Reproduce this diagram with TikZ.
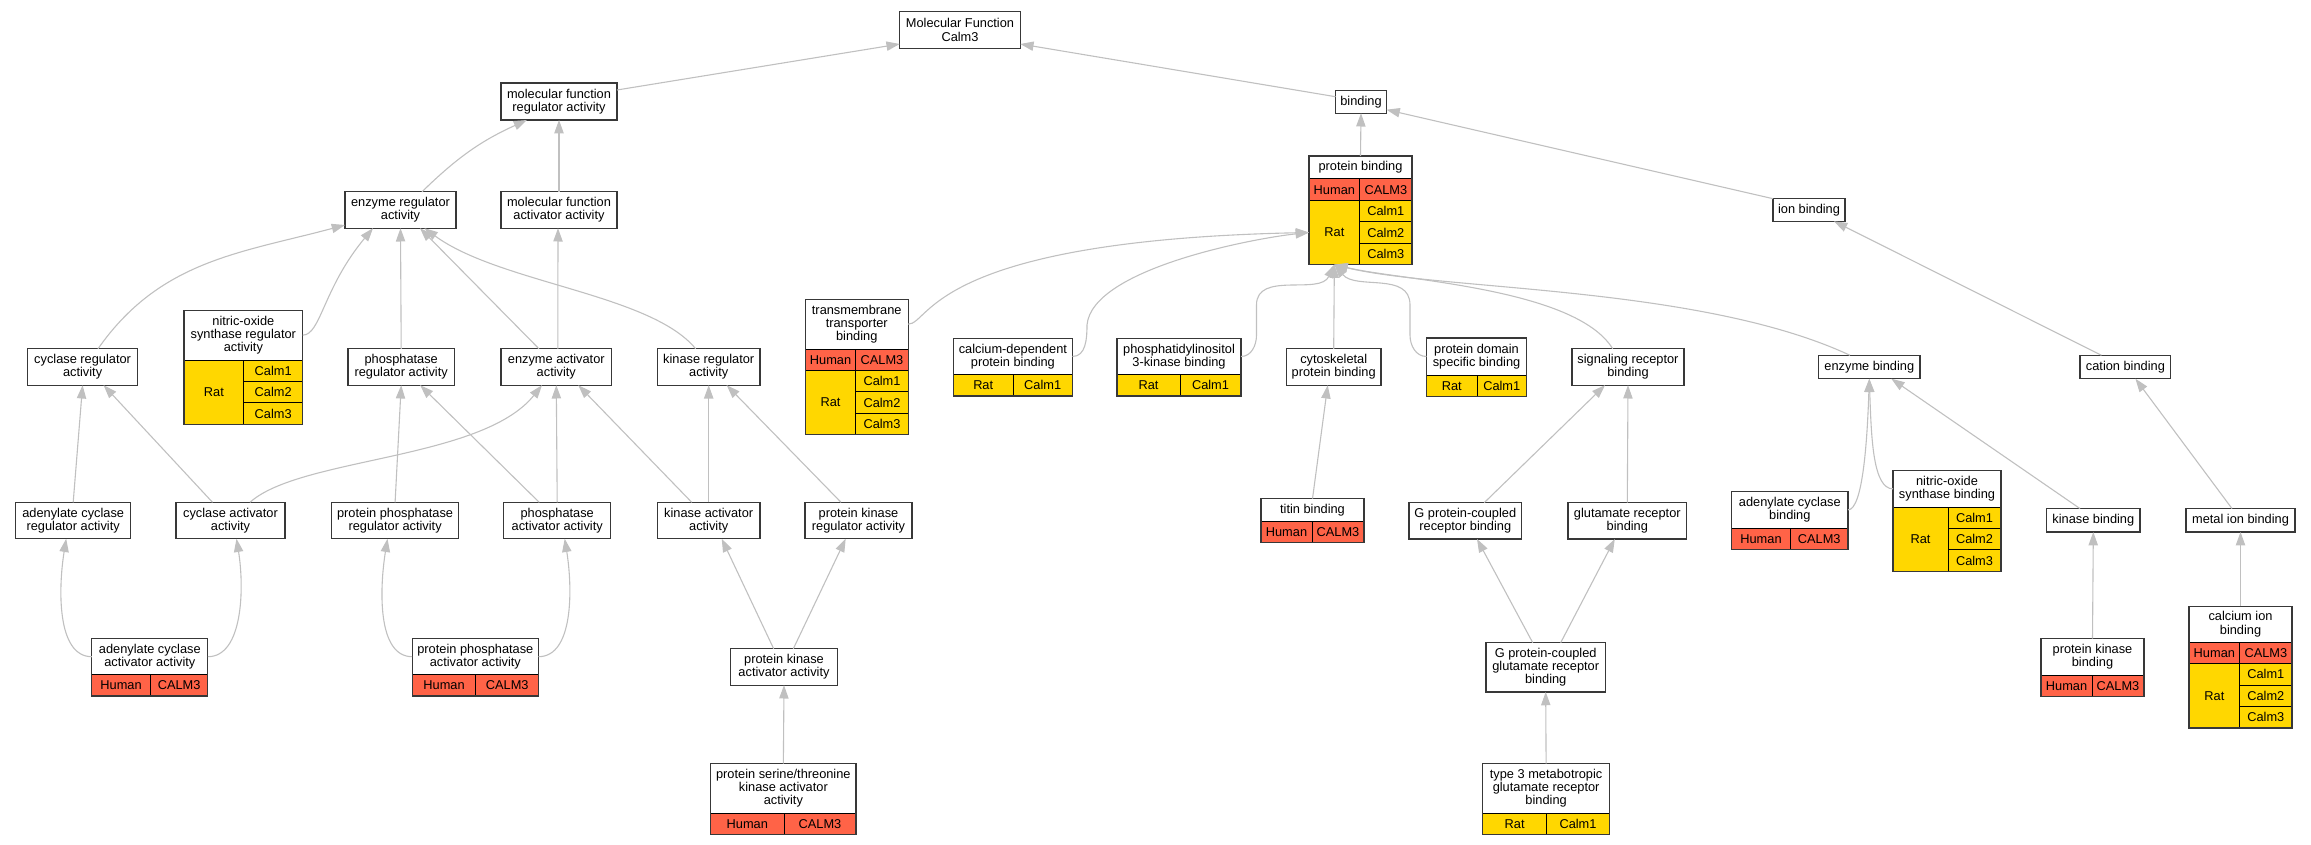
\documentclass[tikz,border=0pt]{standalone}
\usepackage{fontspec}
\setmainfont{Liberation Sans}
\usetikzlibrary{arrows.meta,positioning}

\definecolor{tomato}{HTML}{FF6347}
\definecolor{gold}{HTML}{FFD700}
\definecolor{linegray}{HTML}{C0C0C0}
\definecolor{boxgray}{HTML}{383838}

\tikzset{
  term/.style={draw=boxgray, line width=1.3pt, fill=white, align=center, inner sep=0pt, outer sep=0pt},
  ttl/.style={fill=white, align=center, inner sep=0pt, outer sep=0pt},
  cell/.style={draw=black, line width=1pt, inner sep=0pt, outer sep=0pt, minimum height=21.4pt},
  hum/.style={cell, fill=tomato},
  rat/.style={cell, fill=gold},
  tframe/.style={draw=boxgray, line width=1.3pt},
  isa/.style={draw=linegray, line width=1.1pt, -{Triangle[length=13.3pt,width=9.3pt]}}
}

\begin{document}
\begin{tikzpicture}[x=1pt, y=-1pt, every node/.style={font=\fontsize{12.8}{13.3}\selectfont}]

  % Fix the page to the size of the picture
  \useasboundingbox (0,0) rectangle (2311,845);

  % Root and first level
  \node[term, minimum width=120.5, minimum height=36.6] (mf) at (960,30) {Molecular Function\\Calm3};
  \node[term, minimum width=116, minimum height=37] (mfreg) at (559,101.5) {molecular function\\regulator activity};
  \node[term, minimum width=51, minimum height=23] (bind) at (1361,101.7) {binding};

  % Second level
  \node[term, minimum width=111, minimum height=36.4] (enzreg) at (400.5,210) {enzyme regulator\\activity};
  \node[term, minimum width=116, minimum height=36.4] (mfact) at (559,210) {molecular function\\activator activity};
  \node[term, minimum width=72, minimum height=22.6] (ionb) at (1809,210) {ion binding};

  % protein binding with its table
  \node[ttl, minimum width=103, minimum height=23] (pb) at (1360.5,167.5) {protein binding};
  \node[hum, minimum width=50.7, anchor=north west] (pb-hu) at (pb.south west) {Human};
  \node[hum, minimum width=52.3, right=0pt of pb-hu] (pb-hc) {CALM3};
  \node[rat, minimum width=50.7, minimum height=64.2, below=0pt of pb-hu] (pb-rat) {Rat};
  \node[rat, minimum width=52.3, below=0pt of pb-hc] (pb-c1) {Calm1};
  \node[rat, minimum width=52.3, below=0pt of pb-c1] (pb-c2) {Calm2};
  \node[rat, minimum width=52.3, below=0pt of pb-c2] (pb-c3) {Calm3};
  \draw[tframe] (pb.north west) rectangle (pb-c3.south east);

  % Third level, regulator side
  \node[term, minimum width=110, minimum height=36.4] (cycreg) at (82.6,367) {cyclase regulator\\activity};
  \node[term, minimum width=106.7, minimum height=36.4] (phosreg) at (401.2,367) {phosphatase\\regulator activity};
  \node[term, minimum width=110.6, minimum height=36.4] (enzact) at (556.3,367) {enzyme activator\\activity};
  \node[term, minimum width=102.7, minimum height=36.4] (kinreg) at (708.7,367) {kinase regulator\\activity};

  % nitric-oxide synthase regulator activity
  \node[ttl, minimum width=118.7, minimum height=49.7] (nosreg) at (243.35,335.15) {nitric-oxide\\synthase regulator\\activity};
  \node[rat, minimum width=59.75, minimum height=64.2, anchor=north west] (nosreg-rat) at (nosreg.south west) {Rat};
  \node[rat, minimum width=58.95, anchor=north east] (nosreg-c1) at (nosreg.south east) {Calm1};
  \node[rat, minimum width=58.95, below=0pt of nosreg-c1] (nosreg-c2) {Calm2};
  \node[rat, minimum width=58.95, below=0pt of nosreg-c2] (nosreg-c3) {Calm3};
  \draw[tframe] (nosreg.north west) rectangle (nosreg-c3.south east);

  % transmembrane transporter binding
  \node[ttl, minimum width=102.9, minimum height=49.7] (ttb) at (856.75,324.15) {transmembrane\\transporter\\binding};
  \node[hum, minimum width=50.5, anchor=north west] (ttb-hu) at (ttb.south west) {Human};
  \node[hum, minimum width=52.4, right=0pt of ttb-hu] (ttb-hc) {CALM3};
  \node[rat, minimum width=50.5, minimum height=64.2, below=0pt of ttb-hu] (ttb-rat) {Rat};
  \node[rat, minimum width=52.4, below=0pt of ttb-hc] (ttb-c1) {Calm1};
  \node[rat, minimum width=52.4, below=0pt of ttb-c1] (ttb-c2) {Calm2};
  \node[rat, minimum width=52.4, below=0pt of ttb-c2] (ttb-c3) {Calm3};
  \draw[tframe] (ttb.north west) rectangle (ttb-c3.south east);

  % calcium-dependent protein binding
  \node[ttl, minimum width=119, minimum height=36.4] (cdpb) at (1012.9,356.5) {calcium-dependent\\protein binding};
  \node[rat, minimum width=59.6, anchor=north west] (cdpb-rat) at (cdpb.south west) {Rat};
  \node[rat, minimum width=59.4, right=0pt of cdpb-rat] (cdpb-c1) {Calm1};
  \draw[tframe] (cdpb.north west) rectangle (cdpb-c1.south east);

  % phosphatidylinositol 3-kinase binding
  \node[ttl, minimum width=124, minimum height=36.4] (pi3kb) at (1179,356.5) {phosphatidylinositol\\3-kinase binding};
  \node[rat, minimum width=63, anchor=north west] (pi3kb-rat) at (pi3kb.south west) {Rat};
  \node[rat, minimum width=61, right=0pt of pi3kb-rat] (pi3kb-c1) {Calm1};
  \draw[tframe] (pi3kb.north west) rectangle (pi3kb-c1.south east);

  % Third level, binding side
  \node[term, minimum width=94.7, minimum height=36.4] (cytob) at (1333.7,367) {cytoskeletal\\protein binding};
  \node[ttl, minimum width=100, minimum height=37] (pdsb) at (1476.5,356.5) {protein domain\\specific binding};
  \node[rat, minimum width=50.5, anchor=north west] (pdsb-rat) at (pdsb.south west) {Rat};
  \node[rat, minimum width=49.5, right=0pt of pdsb-rat] (pdsb-c1) {Calm1};
  \draw[tframe] (pdsb.north west) rectangle (pdsb-c1.south east);
  \node[term, minimum width=112, minimum height=36.4] (sigrb) at (1628,367) {signaling receptor\\binding};
  \node[term, minimum width=101.5, minimum height=23.4] (enzb) at (1869.3,367) {enzyme binding};
  \node[term, minimum width=90.8, minimum height=23.4] (catb) at (2125.4,367) {cation binding};

  % Fourth level
  \node[term, minimum width=115.2, minimum height=36.4] (acreg) at (73.2,520.5) {adenylate cyclase\\regulator activity};
  \node[term, minimum width=109, minimum height=36.4] (cycact) at (230.5,520.5) {cyclase activator\\activity};
  \node[term, minimum width=126.8, minimum height=36.4] (ppreg) at (395.1,520.5) {protein phosphatase\\regulator activity};
  \node[term, minimum width=107.1, minimum height=36.4] (phosact) at (557.2,520.5) {phosphatase\\activator activity};
  \node[term, minimum width=102.7, minimum height=36.4] (kinact) at (708.7,520.5) {kinase activator\\activity};
  \node[term, minimum width=107, minimum height=36.4] (pkreg) at (858.5,520.5) {protein kinase\\regulator activity};
  \node[term, minimum width=112.5, minimum height=36.4] (gpcrb) at (1465.3,520.8) {G protein-coupled\\receptor binding};
  \node[term, minimum width=118.7, minimum height=36.4] (glurb) at (1627.3,520.8) {glutamate receptor\\binding};
  \node[term, minimum width=93.5, minimum height=23.4] (kinb) at (2093.3,520.3) {kinase binding};
  \node[term, minimum width=109, minimum height=23.4] (metb) at (2240.5,520.3) {metal ion binding};

  % titin binding
  \node[ttl, minimum width=103, minimum height=22.3] (titinb) at (1312.5,509.85) {titin binding};
  \node[hum, minimum width=51, anchor=north west] (titinb-hu) at (titinb.south west) {Human};
  \node[hum, minimum width=52, right=0pt of titinb-hu] (titinb-hc) {CALM3};
  \draw[tframe] (titinb.north west) rectangle (titinb-hc.south east);

  % adenylate cyclase binding
  \node[ttl, minimum width=116.4, minimum height=36.3] (acb) at (1789.8,509.85) {adenylate cyclase\\binding};
  \node[hum, minimum width=58.8, anchor=north west] (acb-hu) at (acb.south west) {Human};
  \node[hum, minimum width=57.6, right=0pt of acb-hu] (acb-hc) {CALM3};
  \draw[tframe] (acb.north west) rectangle (acb-hc.south east);

  % nitric-oxide synthase binding
  \node[ttl, minimum width=108, minimum height=36.3] (nosb) at (1947,488.85) {nitric-oxide\\synthase binding};
  \node[rat, minimum width=55, minimum height=64.2, anchor=north west] (nosb-rat) at (nosb.south west) {Rat};
  \node[rat, minimum width=53, anchor=north east] (nosb-c1) at (nosb.south east) {Calm1};
  \node[rat, minimum width=53, below=0pt of nosb-c1] (nosb-c2) {Calm2};
  \node[rat, minimum width=53, below=0pt of nosb-c2] (nosb-c3) {Calm3};
  \draw[tframe] (nosb.north west) rectangle (nosb-c3.south east);

  % Fifth level
  \node[term, minimum width=107, minimum height=36.4] (pkact) at (784,667) {protein kinase\\activator activity};
  \node[term, minimum width=119.4, minimum height=49.3] (gpcgrb) at (1545.7,667.3) {G protein-coupled\\glutamate receptor\\binding};

  % adenylate cyclase activator activity
  \node[ttl, minimum width=116, minimum height=36] (acaa) at (149.8,656.7) {adenylate cyclase\\activator activity};
  \node[hum, minimum width=58.6, anchor=north west] (acaa-hu) at (acaa.south west) {Human};
  \node[hum, minimum width=57.4, right=0pt of acaa-hu] (acaa-hc) {CALM3};
  \draw[tframe] (acaa.north west) rectangle (acaa-hc.south east);

  % protein phosphatase activator activity
  \node[ttl, minimum width=126.3, minimum height=36] (ppaa) at (475.35,656.7) {protein phosphatase\\activator activity};
  \node[hum, minimum width=63.7, anchor=north west] (ppaa-hu) at (ppaa.south west) {Human};
  \node[hum, minimum width=62.6, right=0pt of ppaa-hu] (ppaa-hc) {CALM3};
  \draw[tframe] (ppaa.north west) rectangle (ppaa-hc.south east);

  % protein kinase binding
  \node[ttl, minimum width=103, minimum height=36.3] (pkb) at (2092.5,656.85) {protein kinase\\binding};
  \node[hum, minimum width=51, anchor=north west] (pkb-hu) at (pkb.south west) {Human};
  \node[hum, minimum width=52, right=0pt of pkb-hu] (pkb-hc) {CALM3};
  \draw[tframe] (pkb.north west) rectangle (pkb-hc.south east);

  % calcium ion binding
  \node[ttl, minimum width=103, minimum height=36] (cib) at (2240.5,624.3) {calcium ion\\binding};
  \node[hum, minimum width=50.7, anchor=north west] (cib-hu) at (cib.south west) {Human};
  \node[hum, minimum width=52.3, right=0pt of cib-hu] (cib-hc) {CALM3};
  \node[rat, minimum width=50.7, minimum height=64.2, below=0pt of cib-hu] (cib-rat) {Rat};
  \node[rat, minimum width=52.3, below=0pt of cib-hc] (cib-c1) {Calm1};
  \node[rat, minimum width=52.3, below=0pt of cib-c1] (cib-c2) {Calm2};
  \node[rat, minimum width=52.3, below=0pt of cib-c2] (cib-c3) {Calm3};
  \draw[tframe] (cib.north west) rectangle (cib-c3.south east);

  % Bottom level
  \node[ttl, minimum width=145.3, minimum height=49.3] (pstkaa) at (783.35,788.35) {protein serine/threonine\\kinase activator\\activity};
  \node[hum, minimum width=73.3, anchor=north west] (pstkaa-hu) at (pstkaa.south west) {Human};
  \node[hum, minimum width=72, right=0pt of pstkaa-hu] (pstkaa-hc) {CALM3};
  \draw[tframe] (pstkaa.north west) rectangle (pstkaa-hc.south east);

  \node[ttl, minimum width=126.8, minimum height=49.3] (t3b) at (1546.1,788.35) {type 3 metabotropic\\glutamate receptor\\binding};
  \node[rat, minimum width=63.8, anchor=north west] (t3b-rat) at (t3b.south west) {Rat};
  \node[rat, minimum width=63, right=0pt of t3b-rat] (t3b-c1) {Calm1};
  \draw[tframe] (t3b.north west) rectangle (t3b-c1.south east);

  % Edges to the root
  \draw[isa] ([yshift=11.5pt]mfreg.east) -- ([yshift=-14pt]mf.west);
  \draw[isa] ([yshift=5pt]bind.west) -- ([yshift=-14pt]mf.east);
  \draw[isa] ([xshift=21.5pt]enzreg.north) to[bend left=10] ([xshift=-32pt]mfreg.south);
  \draw[isa] (mfact.north) -- (mfreg.south);
  \draw[isa] (pb.north) -- (bind.south);
  \draw[isa] (ionb.north west) -- ([yshift=-8pt]bind.east);

  % Edges to enzyme regulator activity
  \draw[isa] ([xshift=15.4pt]cycreg.north) to[out=55,in=195] ([yshift=-15pt]enzreg.west);
  \draw[isa] (nosreg.east) .. controls +(18,0) and +(-50,60) .. ([xshift=-27.5pt]enzreg.south);
  \draw[isa] (phosreg.north) -- (enzreg.south);
  \draw[isa] ([xshift=-17.3pt]enzact.north) -- ([xshift=19.5pt]enzreg.south);
  \draw[isa] ([xshift=-13pt]kinreg.north) .. controls +(-45,-55) and +(75,55) .. ([xshift=24pt]enzreg.south);
  \draw[isa] ([xshift=1.5pt]enzact.north) -- ([xshift=-1pt]mfact.south);

  % Edges among the activators and regulators
  \draw[isa] (acreg.north) -- (cycreg.south);
  \draw[isa] ([xshift=-18pt]cycact.north) -- ([xshift=21pt]cycreg.south);
  \draw[isa] ([xshift=19.5pt]cycact.north) .. controls +(50,-45) and +(-60,75) .. ([xshift=-14.3pt]enzact.south);
  \draw[isa] (ppreg.north) -- (phosreg.south);
  \draw[isa] ([xshift=-18pt]phosact.north) -- ([xshift=19pt]phosreg.south);
  \draw[isa] (phosact.north) -- (enzact.south);
  \draw[isa] ([xshift=-17pt]kinact.north) -- ([xshift=22pt]enzact.south);
  \draw[isa] (kinact.north) -- (kinreg.south);
  \draw[isa] ([xshift=-17.5pt]pkreg.north) -- ([xshift=18pt]kinreg.south);

  % Loops out of the two activator tables
  \draw[isa] (acaa.west) .. controls +(-35,0) and +(-8,50) .. ([xshift=-7pt]acreg.south);
  \draw[isa] (acaa.east) .. controls +(35,0) and +(8,50) .. ([xshift=6pt]cycact.south);
  \draw[isa] (ppaa.west) .. controls +(-35,0) and +(-8,50) .. ([xshift=-7.6pt]ppreg.south);
  \draw[isa] (ppaa.east) .. controls +(35,0) and +(8,50) .. ([xshift=7.5pt]phosact.south);

  % Protein kinase activators
  \draw[isa] ([xshift=-10.3pt]pkact.north) -- ([xshift=13pt]kinact.south);
  \draw[isa] ([xshift=9.3pt]pkact.north) -- ([xshift=-12.8pt]pkreg.south);
  \draw[isa] (pstkaa.north) -- (pkact.south);

  % Edges to protein binding
  \draw[isa] (ttb.east) .. controls +(22,0) and +(-379,8) .. (pb-rat.west);
  \draw[isa] (cdpb.east) to[out=0,in=-90] (1087,325) to[out=85,in=186,looseness=0.6] (pb-rat.west);
  \draw[isa] (pi3kb.east) to[out=0,in=-90] (1256.5,335) -- (1256.5,305) to[out=90,in=-115] (pb-rat.south);
  \draw[isa] (cytob.north) -- (pb-rat.south);
  \draw[isa] (pdsb.west) to[out=180,in=-90] (1410,335) -- (1410,305) to[out=90,in=-50] (pb-rat.south);
  \draw[isa] ([xshift=-15.3pt]sigrb.north) .. controls +(-37.3,-61) and +(65.65,15.8) .. (pb-rat.south);
  \draw[isa] ([xshift=-19.3pt]enzb.north) .. controls +(-150,-70) and +(105,26) .. (pb-rat.south);

  % Cytoskeletal and signalling receptor branch
  \draw[isa] (titinb.north) -- ([xshift=-6pt]cytob.south);
  \draw[isa] ([xshift=19pt]gpcrb.north) -- ([xshift=-23pt]sigrb.south);
  \draw[isa] (glurb.north) -- (sigrb.south);
  \draw[isa] ([xshift=-13pt]gpcgrb.north) -- ([xshift=11.7pt]gpcrb.south);
  \draw[isa] ([xshift=15pt]gpcgrb.north) -- ([xshift=-12.5pt]glurb.south);
  \draw[isa] (t3b.north) -- (gpcgrb.south);

  % Enzyme binding branch
  \draw[isa] (acb.east) .. controls +(15,0) and +(-2,60) .. (enzb.south);
  \draw[isa] (nosb.west) .. controls +(-20,0) and +(2,60) .. (enzb.south);
  \draw[isa] ([xshift=-13.3pt]kinb.north) -- ([xshift=22pt]enzb.south);
  \draw[isa] (pkb.north) -- (kinb.south);

  % Ion binding branch
  \draw[isa] ([xshift=-8.5pt]metb.north) -- ([xshift=10pt]catb.south);
  \draw[isa] (cib.north) -- (metb.south);
  \draw[isa] ([xshift=-24pt]catb.north) -- ([xshift=25pt]ionb.south);

\end{tikzpicture}
\end{document}
